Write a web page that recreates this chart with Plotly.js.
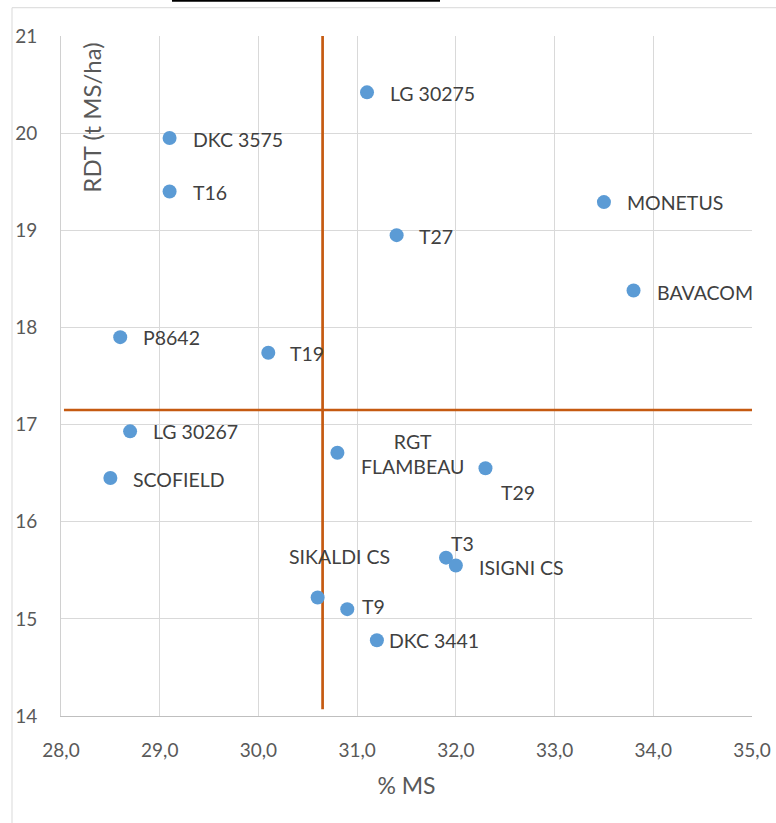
<!DOCTYPE html>
<html>
<head>
<meta charset="utf-8">
<script src="https://cdn.plot.ly/plotly-3.0.1.min.js"></script>
<style>
html,body{margin:0;padding:0;background:#fff;}
#chart{width:776px;height:823px;}
</style>
</head>
<body>
<div id="chart"></div>
<script>
// ---- data ----
var varieties = ["LG 30275","DKC 3575","T16","MONETUS","T27","BAVACOM","P8642","T19","LG 30267","RGT FLAMBEAU","T29","SCOFIELD","T3","ISIGNI CS","SIKALDI CS","T9","DKC 3441"];
var pctMS = [31.10, 29.10, 29.10, 33.50, 31.40, 33.80, 28.60, 30.10, 28.70, 30.80, 32.30, 28.50, 31.90, 32.00, 30.60, 30.90, 31.20];
var rdt   = [20.42, 19.95, 19.40, 19.29, 18.95, 18.38, 17.90, 17.74, 16.93, 16.71, 16.55, 16.45, 15.63, 15.55, 15.22, 15.10, 14.78];
// reference lines (quadrant split)
var vLineX = [30.65, 30.65];
var vLineY = [21.02, 14.07];
var hLineX = [28.03, 35.0];
var hLineY = [17.15, 17.15];
var xTickVals = [28, 29, 30, 31, 32, 33, 34, 35];
var yTickVals = [14, 15, 16, 17, 18, 19, 20, 21];

// ---- label placement (style: anchor, pixel shifts) ----
var labelText = varieties.map(function(n){ return n === "RGT FLAMBEAU" ? "RGT<br>FLAMBEAU" : n; });
var labelPlace = {
  "LG 30275":    ["left", 21, -1.5],
  "DKC 3575":    ["left", 21, -1],
  "T16":         ["left", 21, -1.3],
  "MONETUS":     ["left", 21.5, -0.7],
  "T27":         ["left", 20.5, -1.5],
  "BAVACOM":     ["left", 21.5, -1.6],
  "P8642":       ["left", 20.5, -0.6],
  "T19":         ["left", 20, -0.6],
  "LG 30267":    ["left", 20.5, -0.6],
  "RGT FLAMBEAU":["center", 74.7, -1.5],
  "T29":         ["left", 13.5, -24.7],
  "SCOFIELD":    ["left", 20.5, -1],
  "T3":          ["left", 3, 13.7],
  "ISIGNI CS":   ["left", 21, -2.3],
  "SIKALDI CS":  ["center", 22, 40.7],
  "T9":          ["left", 13, 2.3],
  "DKC 3441":    ["left", 10.5, -0.7]
};

var FONT = "Lato, 'Open Sans', sans-serif";
var ORANGE = "#C55A11";

var traces = [
  {x: vLineX, y: vLineY, mode: "lines", type: "scatter", hoverinfo: "skip",
   line: {color: ORANGE, width: 2.7}, showlegend: false},
  {x: hLineX, y: hLineY, mode: "lines", type: "scatter", hoverinfo: "skip",
   line: {color: ORANGE, width: 2.7}, showlegend: false},
  {x: pctMS, y: rdt, text: varieties, mode: "markers", type: "scatter",
   marker: {color: "#5B9BD5", size: 14}, showlegend: false, cliponaxis: false}
];

var annotations = varieties.map(function(n, i){
  var p = labelPlace[n];
  return {
    x: pctMS[i], y: rdt[i], xref: "x", yref: "y",
    text: labelText[i], showarrow: false,
    xanchor: p[0], yanchor: "middle", xshift: p[1], yshift: p[2],
    align: "center",
    font: {family: FONT, size: 19.5, color: "#404040"}
  };
});
annotations.push({
  xref: "paper", yref: "paper", x: 0.0449, y: 0.880,
  text: "RDT (t MS/ha)", showarrow: false, textangle: -90,
  xanchor: "center", yanchor: "middle",
  font: {family: FONT, size: 24, color: "#595959"}
});

var layout = {
  width: 776, height: 823,
  margin: {l: 61, r: 24, t: 36, b: 107, pad: 0},
  paper_bgcolor: "#fff", plot_bgcolor: "#fff",
  separators: ", ",
  font: {family: FONT, color: "#595959"},
  xaxis: {
    range: [28, 35], tickvals: xTickVals, tickformat: ".1f",
    showgrid: true, gridcolor: "#D9D9D9", gridwidth: 1,
    showline: true, linecolor: "#BFBFBF", linewidth: 1.2,
    zeroline: false, ticks: "outside", ticklen: 17, tickcolor: "rgba(0,0,0,0)",
    tickfont: {family: FONT, size: 19, color: "#595959"},
    title: {text: "% MS", standoff: 17, font: {family: FONT, size: 23, color: "#595959"}},
    fixedrange: true
  },
  yaxis: {
    range: [14, 21], tickvals: yTickVals,
    showgrid: true, gridcolor: "#D9D9D9", gridwidth: 1,
    showline: true, linecolor: "#D0D0D0", linewidth: 1,
    zeroline: false, ticks: "outside", ticklen: 19, tickcolor: "rgba(0,0,0,0)",
    tickfont: {family: FONT, size: 19, color: "#595959"},
    fixedrange: true
  },
  annotations: annotations,
  shapes: [
    {type: "rect", xref: "paper", yref: "paper", x0: -0.0709, x1: 1.3, y0: -0.4, y1: 1.0416,
     line: {color: "#D9D9D9", width: 1}, fillcolor: "rgba(0,0,0,0)", layer: "below"},
    {type: "rect", xref: "paper", yref: "paper", x0: 0.1606, x1: 0.5485, y0: 1.0505, y1: 1.06,
     line: {width: 0}, fillcolor: "#000000", layer: "above"}
  ]
};

Plotly.newPlot("chart", traces, layout, {displayModeBar: false, staticPlot: true});
</script>
</body>
</html>
